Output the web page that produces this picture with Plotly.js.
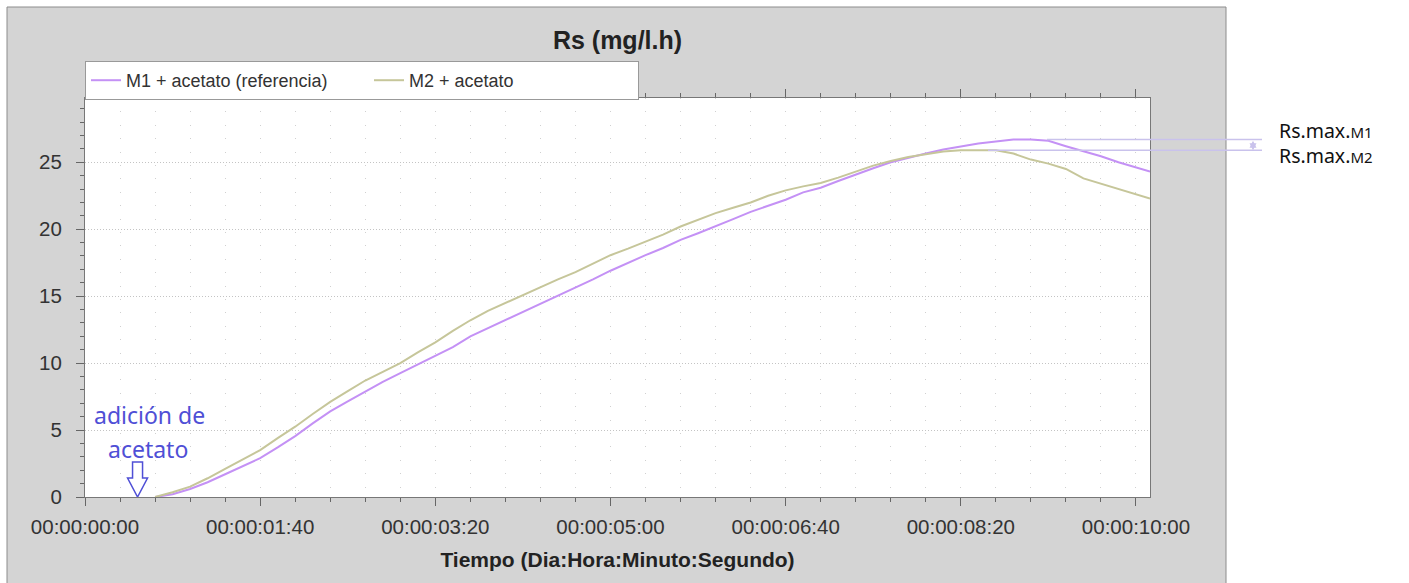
<!DOCTYPE html>
<html>
<head>
<meta charset="utf-8">
<script src="https://cdn.plot.ly/plotly-3.0.1.min.js"></script>
<style>
  html, body { margin: 0; padding: 0; background: #ffffff; }
  #chart { width: 1409px; height: 583px; }
</style>
</head>
<body>
<div id="chart"></div>
<script>
// ---- data (time in seconds, Rs in mg/l.h) ----
const tiempo = [40,50,60,70,80,90,100,110,120,130,140,150,160,170,180,190,200,210,220,230,240,250,260,270,280,290,300,310,320,330,340,350,360,370,380,390,400,410,420,430,440,450,460,470,480,490,500,510,520,530,540,550,560,570,580,590,600,608];
const rsM1 = [0,0.2,0.6,1.1,1.7,2.3,2.9,3.7,4.55,5.5,6.4,7.15,7.9,8.6,9.25,9.9,10.5,11.2,12.0,12.6,13.2,13.85,14.45,15.05,15.6,16.25,16.9,17.5,18.06,18.6,19.2,19.7,20.2,20.75,21.3,21.75,22.2,22.75,23.1,23.6,24.1,24.55,25.0,25.35,25.65,25.95,26.2,26.4,26.55,26.7,26.7,26.6,26.2,25.85,25.45,25.0,24.6,24.3];
const rsM2 = [0,0.35,0.77,1.4,2.1,2.8,3.5,4.4,5.25,6.2,7.1,7.9,8.7,9.35,10.0,10.8,11.55,12.4,13.2,13.9,14.5,15.1,15.7,16.25,16.8,17.4,18.06,18.55,19.05,19.6,20.2,20.7,21.2,21.6,22.0,22.5,22.9,23.2,23.45,23.85,24.3,24.75,25.1,25.4,25.6,25.8,25.9,25.9,25.9,25.65,25.2,24.9,24.5,23.8,23.4,23.0,22.6,22.3];
const seriesNames = ["M1 + acetato (referencia)", "M2 + acetato"];
const xTickVals = [0,100,200,300,400,500,600];
const xTickText = ["00:00:00:00","00:00:01:40","00:00:03:20","00:00:05:00","00:00:06:40","00:00:08:20","00:00:10:00"];
const rsMaxM1 = 26.7;
const rsMaxM2 = 25.9;
const adicionT = 30;

const FONT = "Liberation Sans, Arial, sans-serif";
const NOTE_FONT = "Noto Sans, Open Sans, sans-serif";
const maxLineColor = "#c9c2ec";

const traces = [
  { x: tiempo, y: rsM1, name: seriesNames[0], type: "scatter", mode: "lines",
    legendwidth: 238,
    line: { color: "#c491f5", width: 2 } },
  { x: tiempo, y: rsM2, name: seriesNames[1], type: "scatter", mode: "lines",
    legendwidth: 224,
    line: { color: "#c6c69a", width: 2 } }
];

const layout = {
  width: 1409, height: 583,
  margin: { l: 85, r: 259, t: 98, b: 86 },
  paper_bgcolor: "#ffffff",
  plot_bgcolor: "#ffffff",
  font: { family: FONT, size: 20, color: "#333333" },
  title: {
    text: "<b>Rs (mg/l.h)</b>",
    font: { family: FONT, size: 25, color: "#222222" },
    xref: "paper", x: 0.5, xanchor: "center",
    yref: "container", y: 1 - 40 / 583, yanchor: "middle"
  },
  showlegend: true,
  legend: {
    orientation: "h", x: 0, xanchor: "left", y: 1.0927, yanchor: "top",
    bgcolor: "#ffffff", bordercolor: "#999999", borderwidth: 1,
    font: { family: FONT, size: 18, color: "#333333" }
  },
  xaxis: {
    range: [0, 608],
    tickmode: "array", tickvals: xTickVals, ticktext: xTickText,
    ticks: "outside", ticklen: 8, tickcolor: "#666666", tickwidth: 1,
    ticklabelstandoff: 3,
    showline: true, linecolor: "#777777", linewidth: 1, mirror: "ticks",
    showgrid: true, gridcolor: "#d0d0d0", griddash: "1px,12.4px", gridwidth: 1,
    zeroline: false,
    tickfont: { family: FONT, size: 20.5, color: "#333333" },
    minor: { tickmode: "linear", tick0: 0, dtick: 20, ticks: "outside", ticklen: 4,
             tickcolor: "#666666", showgrid: true, gridcolor: "#d0d0d0", griddash: "1px,12.4px" },
    title: { text: "<b>Tiempo (Dia:Hora:Minuto:Segundo)</b>", standoff: 15,
             font: { family: FONT, size: 21, color: "#222222" } }
  },
  yaxis: {
    range: [0, 29.8],
    tickmode: "linear", tick0: 0, dtick: 5,
    ticks: "outside", ticklen: 8, tickcolor: "#666666",
    ticklabelstandoff: 10,
    showline: true, linecolor: "#777777", linewidth: 1, mirror: true,
    showgrid: true, gridcolor: "#c4c4c4", griddash: "1px,2px",
    zeroline: false,
    tickfont: { family: FONT, size: 20.5, color: "#333333" },
    minor: { tickmode: "linear", tick0: 0, dtick: 1, ticks: "outside", ticklen: 4,
             tickcolor: "#666666", showgrid: false }
  },
  shapes: [
    // grey panel
    { type: "rect", xref: "paper", yref: "paper", layer: "below",
      x0: -78 / 1065, x1: 1141 / 1065, y0: -0.25, y1: 490 / 399,
      fillcolor: "#d4d4d4", line: { color: "#8c8c8c", width: 1 } },
    // white plot area
    { type: "rect", xref: "x domain", yref: "y domain", layer: "below",
      x0: 0, x1: 1, y0: 0, y1: 1, fillcolor: "#ffffff", line: { width: 0 } },
    // hollow arrow (acetate addition)
    { type: "path", xref: "x", yref: "y", layer: "above",
      xsizemode: "pixel", xanchor: adicionT, ysizemode: "pixel", yanchor: 0,
      path: "M -5,35 L 5,35 L 5,19 L 10,19 L 0,0 L -10,19 L -5,19 Z",
      fillcolor: "rgba(0,0,0,0)", line: { color: "#4f4fd6", width: 1.5 } },
    // Rs max lines
    { type: "line", xref: "paper", yref: "y", layer: "above",
      x0: (1047 - 85) / 1065, x1: (1262 - 85) / 1065, y0: rsMaxM1, y1: rsMaxM1,
      line: { color: maxLineColor, width: 1.5 } },
    { type: "line", xref: "paper", yref: "y", layer: "above",
      x0: (988 - 85) / 1065, x1: (1262 - 85) / 1065, y0: rsMaxM2, y1: rsMaxM2,
      line: { color: maxLineColor, width: 1.5 } }
  ],
  annotations: [
    { text: "adición de", xref: "x", yref: "y", x: 37.1, y: 6.12,
      xanchor: "center", yanchor: "middle", showarrow: false,
      font: { family: NOTE_FONT, size: 23, color: "#4f4fd6" } },
    { text: "acetato", xref: "x", yref: "y", x: 36, y: 3.58,
      xanchor: "center", yanchor: "middle", showarrow: false,
      font: { family: NOTE_FONT, size: 23, color: "#4f4fd6" } },
    { text: "", xref: "paper", yref: "y", x: (1253 - 85) / 1065, y: rsMaxM2,
      axref: "pixel", ayref: "pixel", ax: 0, ay: -11,
      showarrow: true, arrowside: "end+start", arrowhead: 2, arrowsize: 0.7,
      arrowwidth: 2, arrowcolor: maxLineColor },
    { text: "Rs.max.<span style='font-size:15px'>M1</span><br>Rs.max.<span style='font-size:15px'>M2</span>",
      xref: "paper", yref: "y",
      x: (1277 - 85) / 1065, y: 26.45, xanchor: "left", yanchor: "middle", align: "left",
      showarrow: false,
      font: { family: NOTE_FONT, size: 19.5, color: "#111111" } }
  ]
};

Plotly.newPlot("chart", traces, layout, { displayModeBar: false, staticPlot: true });
</script>
</body>
</html>
